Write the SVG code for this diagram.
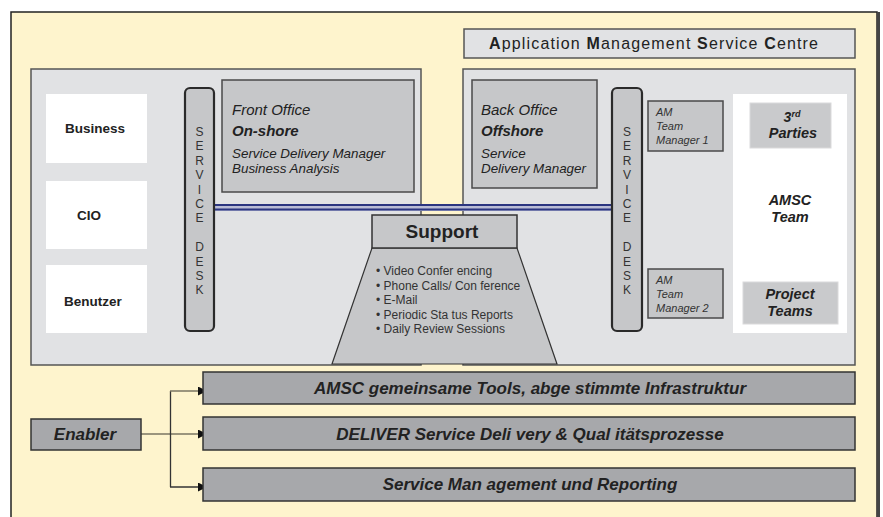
<svg xmlns="http://www.w3.org/2000/svg" width="883" height="517" viewBox="0 0 883 517">
  <style>
    text { font-family: "Liberation Sans", Arial, sans-serif; fill: #222; }
    .panel { fill: #e1e2e4; stroke: #555; stroke-width: 1.5; }
    .white { fill: #ffffff; }
    .box { fill: #c6c7c9; stroke: #4a4a4a; stroke-width: 1.5; }
    .desk { fill: #c6c7c9; stroke: #2a2a2a; stroke-width: 2.2; }
    .soft { fill: #c9cacc; stroke: #dadadb; stroke-width: 1; }
    .bar { fill: #a7a8ab; stroke: #333; stroke-width: 1.5; }
    .b { font-weight: bold; }
    .i { font-style: italic; }
    .bi { font-weight: bold; font-style: italic; }
    .desktxt { font-size: 12px; fill: #333; text-anchor: middle; }
    .bul { font-size: 12px; fill: #333; }
    .mid { text-anchor: middle; }
    .am { font-size: 11px; font-style: italic; fill: #333; }
  </style>
  <defs>
    <marker id="arrow" viewBox="0 0 10 10" refX="10" refY="5" markerWidth="10" markerHeight="9" markerUnits="userSpaceOnUse" orient="auto">
      <path d="M0,0 L10,5 L0,10 z" fill="#111"/>
    </marker>
  </defs>

  <!-- outer frame -->
  <g id="frame">
    <rect x="11" y="12" width="866" height="520" fill="#fef4cd" stroke="#222" stroke-width="1.5"/>
    <rect x="877" y="12" width="3" height="510" fill="#444"/>
  </g>

  <!-- title -->
  <g id="amsc-title">
    <rect x="464" y="29" width="391" height="29" fill="#e1e2e4" stroke="#555" stroke-width="1.5"/>
    <text x="489" y="48.5" font-size="16" textLength="329" lengthAdjust="spacing"><tspan class="b">A</tspan>pplication <tspan class="b">M</tspan>anagement  <tspan class="b">S</tspan>ervice <tspan class="b">C</tspan>entre</text>
  </g>

  <!-- panels -->
  <g id="panel-left">
    <rect class="panel" x="31" y="69" width="390" height="296"/>
  </g>
  <g id="panel-right">
    <rect class="panel" x="463" y="69" width="392" height="296"/>
  </g>

  <!-- connectors -->
  <g id="connectors">
    <rect x="214" y="204" width="398" height="7" fill="#b9bcd6"/>
    <line x1="214" y1="205" x2="612" y2="205" stroke="#2b3580" stroke-width="2"/>
    <line x1="214" y1="209.5" x2="612" y2="209.5" stroke="#2b3580" stroke-width="2"/>
    <line x1="141" y1="434" x2="207" y2="434" stroke="#7a7662" stroke-width="1.5" marker-end="url(#arrow)"/>
    <line x1="170.5" y1="391" x2="170.5" y2="487" stroke="#333" stroke-width="1.3"/>
    <line x1="170" y1="391" x2="207" y2="391" stroke="#7a7662" stroke-width="1.5" marker-end="url(#arrow)"/>
    <line x1="170" y1="487" x2="207" y2="487" stroke="#333" stroke-width="1.3" marker-end="url(#arrow)"/>
  </g>

  <!-- customer side -->
  <g id="business">
    <rect class="white" x="46" y="94" width="101" height="69"/>
    <text class="b mid" x="95" y="133" font-size="13.5">Business</text>
  </g>
  <g id="cio">
    <rect class="white" x="46" y="181" width="101" height="68"/>
    <text class="b mid" x="89" y="220" font-size="13.5">CIO</text>
  </g>
  <g id="benutzer">
    <rect class="white" x="46" y="265" width="101" height="68"/>
    <text class="b mid" x="93" y="306" font-size="13.5">Benutzer</text>
  </g>

  <g id="service-desk-left">
    <rect class="desk" x="185" y="88" width="29" height="243" rx="5"/>
    <text class="desktxt" x="199.5" y="136">S</text>
    <text class="desktxt" x="199.5" y="150.4">E</text>
    <text class="desktxt" x="199.5" y="164.8">R</text>
    <text class="desktxt" x="199.5" y="179.2">V</text>
    <text class="desktxt" x="199.5" y="193.6">I</text>
    <text class="desktxt" x="199.5" y="208">C</text>
    <text class="desktxt" x="199.5" y="222.4">E</text>
    <text class="desktxt" x="199.5" y="251.2">D</text>
    <text class="desktxt" x="199.5" y="265.6">E</text>
    <text class="desktxt" x="199.5" y="280">S</text>
    <text class="desktxt" x="199.5" y="294.4">K</text>
  </g>

  <g id="front-office">
    <rect class="box" x="222" y="80" width="192" height="112"/>
    <text class="i" x="232" y="115" font-size="15" fill="#333">Front Office</text>
    <text class="bi" x="232" y="136" font-size="15">On-shore</text>
    <text class="i" x="232" y="158" font-size="13.4" fill="#333">Service Delivery Manager</text>
    <text class="i" x="232" y="173" font-size="13.4" fill="#333">Business Analysis</text>
  </g>

  <g id="back-office">
    <rect class="box" x="472" y="80" width="125" height="108"/>
    <text class="i" x="481" y="115" font-size="15" fill="#333">Back Office</text>
    <text class="bi" x="481" y="136" font-size="15">Offshore</text>
    <text class="i" x="481" y="158" font-size="13.4" fill="#333">Service</text>
    <text class="i" x="481" y="173" font-size="13.4" fill="#333">Delivery Manager</text>
  </g>

  <g id="service-desk-right">
    <rect class="desk" x="612" y="88" width="30" height="243" rx="5"/>
    <text class="desktxt" x="627" y="136">S</text>
    <text class="desktxt" x="627" y="150.4">E</text>
    <text class="desktxt" x="627" y="164.8">R</text>
    <text class="desktxt" x="627" y="179.2">V</text>
    <text class="desktxt" x="627" y="193.6">I</text>
    <text class="desktxt" x="627" y="208">C</text>
    <text class="desktxt" x="627" y="222.4">E</text>
    <text class="desktxt" x="627" y="251.2">D</text>
    <text class="desktxt" x="627" y="265.6">E</text>
    <text class="desktxt" x="627" y="280">S</text>
    <text class="desktxt" x="627" y="294.4">K</text>
  </g>

  <g id="am-team-manager-1">
    <rect class="box" x="648" y="101" width="75" height="50" stroke-width="1.2"/>
    <text class="am" x="656" y="116">AM</text>
    <text class="am" x="656" y="130">Team</text>
    <text class="am" x="656" y="144">Manager 1</text>
  </g>
  <g id="am-team-manager-2">
    <rect class="box" x="648" y="269" width="75" height="49" stroke-width="1.2"/>
    <text class="am" x="656" y="284">AM</text>
    <text class="am" x="656" y="298">Team</text>
    <text class="am" x="656" y="312">Manager 2</text>
  </g>

  <g id="amsc-team">
    <rect class="white" x="733" y="94" width="114" height="239"/>
    <text class="bi mid" x="790" y="205" font-size="14.5">AMSC</text>
    <text class="bi mid" x="790" y="222" font-size="14.5">Team</text>
  </g>
  <g id="third-parties">
    <rect class="soft" x="750" y="103" width="81" height="45"/>
    <text class="bi mid" x="792" y="122" font-size="14">3<tspan font-size="9" dy="-5">rd</tspan></text>
    <text class="bi mid" x="793" y="138" font-size="14.5">Parties</text>
  </g>
  <g id="project-teams">
    <rect class="soft" x="743" y="282" width="95" height="42"/>
    <text class="bi mid" x="790" y="299" font-size="14.5">Project</text>
    <text class="bi mid" x="790" y="316" font-size="14.5">Teams</text>
  </g>

  <!-- support -->
  <g id="support">
    <path d="M372,248 L517,248 L557,364 L332,364 Z" fill="#c6c7c9" stroke="#333" stroke-width="1.2"/>
    <rect x="372" y="215" width="145" height="33" fill="#c6c7c9" stroke="#333" stroke-width="1.5"/>
    <text class="b mid" x="442" y="238" font-size="19">Support</text>
    <text class="bul" x="376" y="275">• Video Confer encing</text>
    <text class="bul" x="376" y="290">• Phone Calls/ Con ference</text>
    <text class="bul" x="376" y="304">• E-Mail</text>
    <text class="bul" x="376" y="319">• Periodic Sta tus Reports</text>
    <text class="bul" x="376" y="333">• Daily Review Sessions</text>
  </g>

  <!-- enablers -->
  <g id="enabler">
    <rect class="bar" x="31" y="419" width="110" height="31"/>
    <text class="bi mid" x="85" y="440" font-size="17">Enabler</text>
  </g>
  <g id="tools">
    <rect class="bar" x="203" y="372" width="652" height="32"/>
    <text class="bi mid" x="530" y="394" font-size="17">AMSC gemeinsame Tools, abge stimmte Infrastruktur</text>
  </g>
  <g id="deliver">
    <rect class="bar" x="203" y="417" width="652" height="33"/>
    <text class="bi mid" x="530" y="440" font-size="17">DELIVER Service Deli very &amp; Qual itätsprozesse</text>
  </g>
  <g id="service-management">
    <rect class="bar" x="203" y="468" width="652" height="33"/>
    <text class="bi mid" x="530" y="490" font-size="17">Service Man agement und Reporting</text>
  </g>
</svg>
